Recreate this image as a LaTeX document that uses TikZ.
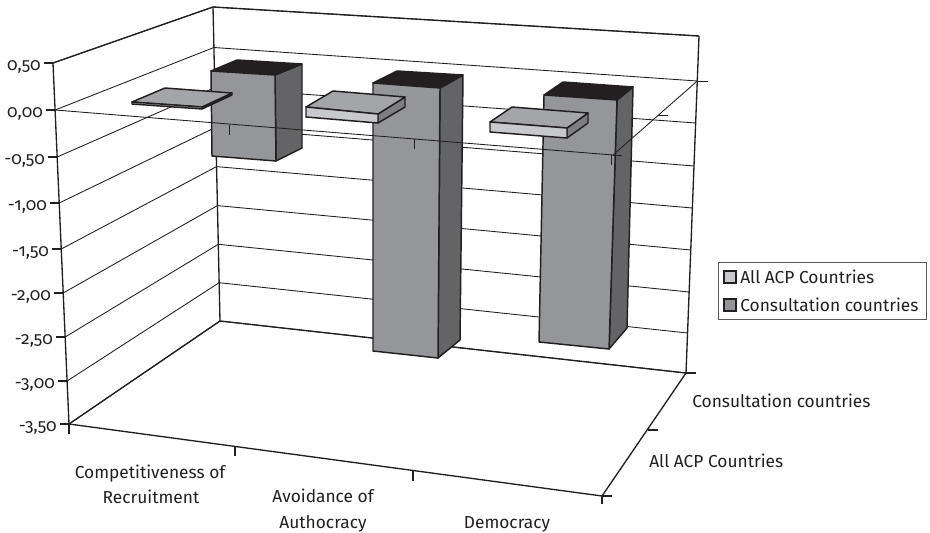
\documentclass[tikz,border=0pt]{standalone}
\usepackage{fontspec}
\setmainfont{Fira Sans}[Numbers=OldStyle]
\usetikzlibrary{positioning}
\definecolor{inkblack}{RGB}{35,31,32}
\definecolor{acpface}{RGB}{200,201,204}
\definecolor{acptop}{RGB}{163,165,168}
\definecolor{acpside}{RGB}{124,126,129}
\definecolor{consface}{RGB}{148,150,153}
\definecolor{consside}{RGB}{99,100,102}
\definecolor{constop}{RGB}{35,31,32}
\definecolor{legendgray}{RGB}{90,91,93}
\newcommand{\lblfont}{\fontsize{13}{16}\selectfont}

\begin{document}
\begin{tikzpicture}[x=0.75pt, y=-0.75pt,
        gridline/.style={draw=inkblack, line width=0.65pt},
        axisline/.style={draw=inkblack, line width=1pt},
        barface/.style={draw=inkblack, line width=1.1pt, line join=round},
        lbl/.style={font=\lblfont, text=inkblack, inner sep=0pt},
        ylabel/.style={lbl, anchor=base east},
        catlabel/.style={lbl, anchor=base},
        keybox/.style={draw=inkblack, line width=0.8pt}
    ]
        \useasboundingbox (0,0) rectangle (930,532);

        % Walls: gridlines and value axis
        \foreach \val/\fy/\by/\ry [count=\i] in {0{,}50/63/7/36, 0{,}00/110/47.5/81,
                -0{,}50/157/87.6/123, -1{,}00/203/127.3/166, -1{,}50/249/166.6/208,
                -2{,}00/293/205.6/250, -2{,}50/337/244.3/292, -3{,}00/381/282.7/333,
                -3{,}50/424/321/373} {
            \pgfmathsetmacro{\fx}{53+(\fy-63)*16/361}
            \pgfmathsetmacro{\bx}{213+(\by-7)*7/314}
            \pgfmathsetmacro{\rx}{699-(\ry-36)*13/337}
            \coordinate (f\i) at (\fx,\fy);
            \coordinate (b\i) at (\bx,\by);
            \coordinate (r\i) at (\rx,\ry);
            \draw[gridline] (f\i) -- (b\i) -- (r\i);
            \draw[axisline] (f\i) -- ++(-9,0);
            \node[ylabel] (y\i) at ([shift={(-12,7.5)}]f\i) {\val};
        }
        \draw[axisline] (f1) -- (f9);
        \draw[axisline] (f1) -- (b1) -- (r1);
        \draw[axisline] (b1) -- (b9);
        \draw[axisline] (r1) -- (r9);

        % Floor
        \coordinate (fr) at (602,496);
        \draw[axisline] (f9) -- (b9) -- (r9);
        \draw[axisline] (f9) -- (fr) -- (r9);
        \draw[axisline] (f9) -- ++(0,10);
        \draw[axisline] (235,446.4) -- ++(0,10);
        \draw[axisline] (413,470.5) -- ++(0,10);
        \draw[axisline] (fr) -- ++(0,8);
        \draw[axisline] (fr) -- ++(10,0);
        \draw[axisline] (648,430) -- ++(10,0);
        \draw[axisline] (r9) -- ++(10,0);

        % Consultation countries (back row)
        \filldraw[barface, fill=consside] (275,75) -- (302,64) -- (302,148) -- (276,161) -- cycle;
        \filldraw[barface, fill=constop] (211,71) -- (237,60) -- (302,64) -- (275,75) -- cycle;
        \filldraw[barface, fill=consface] (211,71) -- (275,75) -- (276,161) -- (212,156) -- cycle;

        \filldraw[barface, fill=consside] (440,88) -- (463,75) -- (460,340) -- (438,358) -- cycle;
        \filldraw[barface, fill=constop] (373,83) -- (397,71) -- (463,75) -- (440,88) -- cycle;
        \filldraw[barface, fill=consface] (373,83) -- (440,88) -- (438,358) -- (373,351) -- cycle;

        \filldraw[barface, fill=consside] (617,100) -- (633,87) -- (627,328) -- (609,349) -- cycle;
        \filldraw[barface, fill=constop] (544,95) -- (563,82) -- (633,87) -- (617,100) -- cycle;
        \filldraw[barface, fill=consface] (544,95) -- (617,100) -- (609,349) -- (539,342) -- cycle;

        % Zero level category axis
        \coordinate (zr) at (613,155);
        \draw[gridline] (f2) -- (zr) -- (r2);
        \draw[gridline] (zr) -- ++(9,0);
        \draw[gridline] (229,124.6) -- ++(0,10);
        \draw[gridline] (414,139.2) -- ++(0,10);
        \draw[gridline] (611,154.8) -- ++(0,10);
        \draw[gridline] (658,115) -- ++(10,0);
        \draw[gridline] (r2) -- ++(11,0);

        % All ACP Countries (front row)
        \filldraw[barface, fill=acpside] (202,107) -- (232,93) -- (232,95) -- (202,109) -- cycle;
        \filldraw[barface, fill=acptop] (132,102) -- (202,107) -- (232,93) -- (165,88) -- cycle;
        \filldraw[barface, fill=acpface] (132,102) -- (202,107) -- (202,109) -- (132,104) -- cycle;

        \filldraw[barface, fill=acpside] (378,114) -- (405,97) -- (405,107) -- (378,123) -- cycle;
        \filldraw[barface, fill=acptop] (306,107) -- (378,114) -- (405,97) -- (333,91) -- cycle;
        \filldraw[barface, fill=acpface] (306,107) -- (378,114) -- (378,123) -- (306,117) -- cycle;

        \filldraw[barface, fill=acpside] (567,128) -- (588,113) -- (588,123) -- (567,138) -- cycle;
        \filldraw[barface, fill=acptop] (490,122) -- (567,128) -- (588,113) -- (512,107) -- cycle;
        \filldraw[barface, fill=acpface] (490,122) -- (567,128) -- (567,138) -- (490,132) -- cycle;

        % Category labels
        \node[catlabel] (cat1a) at (150,478) {Competitiveness of};
        \node[catlabel] (cat1b) at (151,503) {Recruitment};
        \node[catlabel] (cat2a) at (323,502) {Avoidance of};
        \node[catlabel] (cat2b) at (323,528) {Authocracy};
        \node[catlabel] (cat3) at (507,528) {Democracy};

        % Series labels on depth axis
        \node[lbl, anchor=base west] (ser2) at (692,407) {Consultation countries};
        \node[lbl, anchor=base west] (ser1) at (649,467) {All ACP Countries};

        % Legend
        \draw[draw=legendgray, line width=0.7pt] (718,262) rectangle (926,319);
        \filldraw[keybox, fill=acpface] (724,271) rectangle (736,283);
        \filldraw[keybox, fill=consface] (724,299) rectangle (736,311);
        \node[lbl, anchor=base west] (key1) at (740,283) {All ACP Countries};
        \node[lbl, anchor=base west] (key2) at (740,311) {Consultation countries};
    \end{tikzpicture}
\end{document}
